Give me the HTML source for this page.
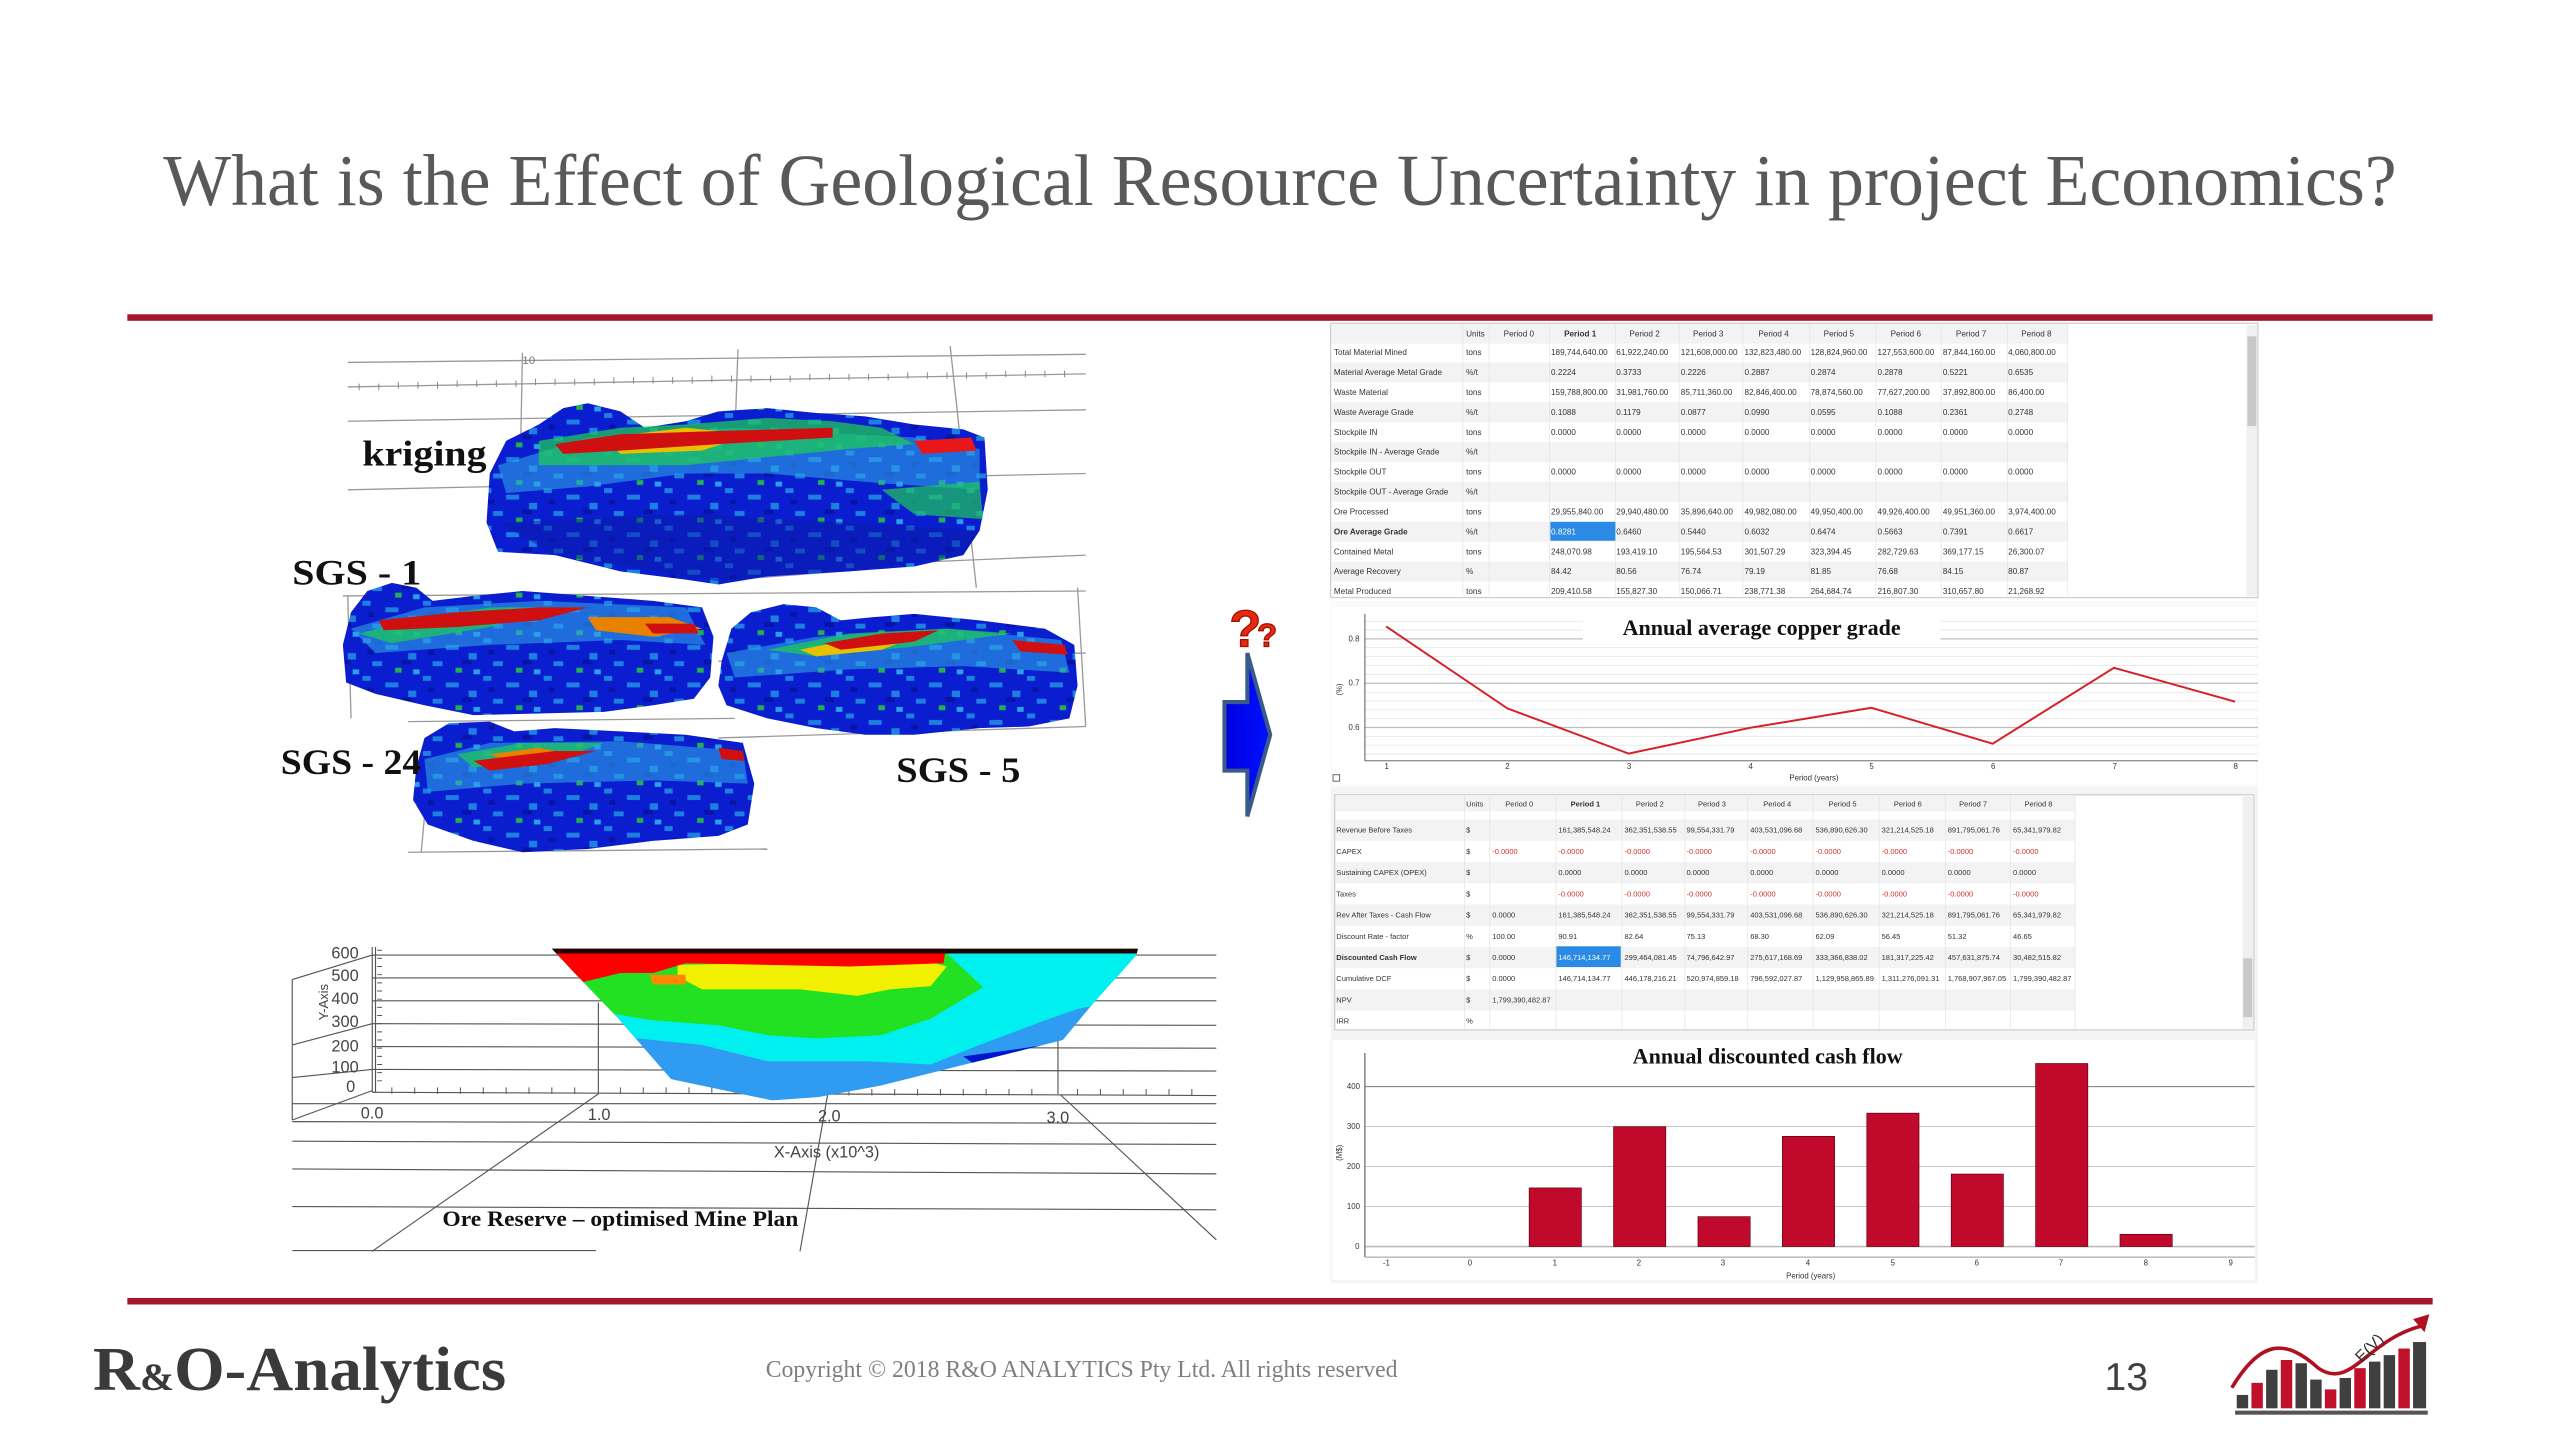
<!DOCTYPE html>
<html><head><meta charset="utf-8"><style>
html,body{margin:0;padding:0;background:#fff;}
svg{display:block;}
.t{font-family:"Liberation Sans",sans-serif;fill:#333;}
.s{font-family:"Liberation Serif",serif;}
</style></head><body>
<svg width="2560" height="1440" viewBox="0 0 1568 882" xmlns="http://www.w3.org/2000/svg">
<defs>
<pattern id="tex" width="37" height="23" patternUnits="userSpaceOnUse">
<rect width="37" height="23" fill="#0a1ed0"/>
<rect x="0" y="0" width="5" height="3" fill="#1d7fe0"/>
<rect x="14" y="4" width="8" height="3" fill="#1d7fe0"/>
<rect x="28" y="9" width="5" height="4" fill="#1d7fe0"/>
<rect x="6" y="14" width="6" height="3" fill="#1d7fe0"/>
<rect x="20" y="18" width="4" height="3" fill="#22b050"/>
<rect x="3" y="7" width="4" height="3" fill="#0814a8"/>
<rect x="24" y="13" width="6" height="3" fill="#0814a8"/>
<rect x="31" y="19" width="4" height="3" fill="#2aa0e8"/>
</pattern>
<clipPath id="pit"><polygon points="338,581 697,581 696,585 670,614 651,637 539,665 501,672 473,674 411,661 378,623 351,595"/></clipPath>
<linearGradient id="arr" x1="0" x2="1"><stop offset="0" stop-color="#0000e0"/><stop offset="1" stop-color="#0010ff"/></linearGradient>
</defs>

<text class="s" x="100" y="125.6" font-size="45" fill="#595959" textLength="1368" lengthAdjust="spacingAndGlyphs">What is the Effect of Geological Resource Uncertainty in project Economics?</text>

<rect x="78" y="192.5" width="1412" height="4" fill="#a3162b"/>
<rect x="78" y="795" width="1412" height="4" fill="#a3162b"/>

<g stroke="#999" stroke-width="0.8" fill="none">
<line x1="213" y1="222" x2="665" y2="217"/>
<line x1="213" y1="237" x2="665" y2="229"/>
<line x1="213" y1="258" x2="665" y2="251"/>
<line x1="213" y1="300" x2="665" y2="290"/>
<line x1="430" y1="350" x2="665" y2="340"/>
<line x1="210" y1="365" x2="665" y2="362"/>
<line x1="440" y1="405" x2="665" y2="400"/>
<line x1="440" y1="452" x2="665" y2="445"/>
<line x1="250" y1="442" x2="450" y2="440"/>
<line x1="250" y1="522" x2="470" y2="520"/>
<line x1="320" y1="216" x2="318" y2="320"/>
<line x1="452" y1="214" x2="450" y2="270"/>
<line x1="582" y1="212" x2="598" y2="360"/>
<line x1="213" y1="365" x2="215" y2="440"/>
<line x1="660" y1="360" x2="665" y2="445"/>
<line x1="260" y1="500" x2="258" y2="522"/>
</g>
<g stroke="#888" stroke-width="0.6">
<path d="M220 235v4M232 235v4M244 234v4M256 234v4M268 234v4M280 233v4M292 233v4M304 233v4M316 233v4M328 232v4M340 232v4M352 232v4M364 232v4M376 231v4M388 231v4M400 231v4M412 231v4M424 231v4M436 230v4M448 230v4M460 230v4M472 230v4M484 230v4M496 229v4M508 229v4M520 229v4M532 229v4M544 229v4M556 228v4M568 228v4M580 228v4M592 228v4M604 228v4M616 227v4M628 227v4M640 227v4M652 227v4"/>
</g>
<text x="320" y="223" font-family="Liberation Sans" font-size="7" fill="#777">10</text>

<g>
<polygon fill="url(#tex)" points="300,290 310,270 330,260 345,250 360,247 380,252 395,262 420,258 440,252 470,250 500,253 530,255 560,260 590,263 603,268 605,300 600,325 590,340 560,347 520,350 470,353 440,358 420,355 380,350 340,340 305,338 298,320"/>
<polygon fill="#2da0e6" opacity="0.6" points="305,285 360,268 450,262 560,268 600,275 600,300 540,296 470,290 420,290 360,298 310,302"/>
<polygon fill="#1ec85a" opacity="0.75" points="330,270 380,262 420,260 470,256 510,258 540,262 560,272 520,275 470,280 420,285 370,285 330,285"/>
<polygon fill="#1ec85a" opacity="0.7" points="540,300 600,295 602,318 560,315"/>
<polygon fill="#e8c000" points="370,268 420,262 460,266 430,276 380,278"/>
<polygon fill="#d01010" points="340,272 380,266 440,264 510,262 510,268 440,272 380,276 345,278"/>
<polygon fill="#e8181a" points="560,270 595,268 598,276 565,278"/>
<polygon fill="#0a1aa8" opacity="0.5" points="305,320 420,315 520,320 600,325 590,340 520,350 440,356 340,340"/>
</g>
<g>
<polygon fill="url(#tex)" points="210,395 215,375 225,362 240,357 255,360 265,368 290,365 320,362 360,365 400,368 430,372 437,390 435,415 425,428 400,432 370,436 330,437 290,438 260,432 230,425 212,418"/>
<polygon fill="#2da0e6" opacity="0.6" points="215,385 260,372 330,368 420,372 432,395 380,392 300,395 230,400"/>
<polygon fill="#1ec85a" opacity="0.75" points="220,388 260,378 300,372 340,372 300,384 240,394"/>
<polygon fill="#d01010" points="232,380 280,375 330,372 360,372 330,380 280,384 235,386"/>
<polygon fill="#e88000" points="360,378 410,378 430,385 400,390 365,386"/>
<polygon fill="#d01010" points="395,382 425,382 428,388 400,388"/>
</g>
<g>
<polygon fill="url(#tex)" points="442,405 448,385 460,375 480,370 500,372 515,380 535,378 560,376 600,380 640,385 658,395 660,420 655,440 630,445 600,446 560,450 530,450 500,446 470,440 445,432 440,420"/>
<polygon fill="#2da0e6" opacity="0.6" points="445,400 500,390 580,385 650,392 655,412 590,408 520,410 450,415"/>
<polygon fill="#1ec85a" opacity="0.75" points="470,398 520,388 580,385 620,388 560,396 500,402"/>
<polygon fill="#e8c000" points="490,398 520,392 560,390 540,398 500,402"/>
<polygon fill="#d01010" points="505,394 540,388 575,386 560,393 515,398"/>
<polygon fill="#d01010" points="620,392 652,395 654,401 625,399"/>
</g>
<g>
<polygon fill="url(#tex)" points="255,470 260,452 275,443 300,442 315,448 340,446 380,448 420,450 455,455 462,480 458,505 440,512 400,515 360,520 320,522 290,515 262,505 253,490"/>
<polygon fill="#2da0e6" opacity="0.6" points="260,465 300,455 380,454 455,460 458,480 400,478 320,480 262,485"/>
<polygon fill="#1ec85a" opacity="0.75" points="280,462 320,455 370,455 340,466 290,470"/>
<polygon fill="#e88000" points="300,462 330,458 350,462 320,470"/>
<polygon fill="#d01010" points="290,466 340,460 365,460 335,468 300,472"/>
<polygon fill="#d01010" points="440,458 455,460 456,466 442,465"/>
</g>
<g class="s" font-weight="bold" fill="#111" font-size="22">
<text x="222" y="285" textLength="76" lengthAdjust="spacingAndGlyphs">kriging</text>
<text x="179" y="358" textLength="79" lengthAdjust="spacingAndGlyphs">SGS - 1</text>
<text x="172" y="474" textLength="86" lengthAdjust="spacingAndGlyphs">SGS - 24</text>
<text x="549" y="479" textLength="76" lengthAdjust="spacingAndGlyphs">SGS - 5</text>
</g>

<g stroke="#555" stroke-width="0.7" fill="none">
<line x1="228" y1="585" x2="745" y2="585"/>
<line x1="228" y1="599" x2="745" y2="599"/>
<line x1="228" y1="613" x2="745" y2="613"/>
<line x1="228" y1="627" x2="745" y2="628"/>
<line x1="228" y1="641" x2="745" y2="642"/>
<line x1="228" y1="655" x2="745" y2="656"/>
<line x1="228" y1="669" x2="745" y2="671"/>
<line x1="179" y1="676" x2="745" y2="676"/>
<line x1="179" y1="687" x2="745" y2="688"/>
<line x1="179" y1="699" x2="745" y2="701"/>
<line x1="179" y1="716" x2="745" y2="719"/>
<line x1="179" y1="739" x2="745" y2="741"/>
<line x1="179" y1="766" x2="365" y2="766"/>
<line x1="228" y1="580" x2="228" y2="669"/>
<line x1="230" y1="580" x2="230" y2="669"/>
<line x1="366.5" y1="614" x2="366.5" y2="670"/>
<line x1="648" y1="637" x2="648" y2="670"/>
<line x1="366.5" y1="670" x2="227.8" y2="766.5"/>
<line x1="507" y1="670" x2="490" y2="766.5"/>
<line x1="649.6" y1="670.6" x2="745" y2="759.4"/>
<line x1="179" y1="686" x2="228" y2="668"/>
<line x1="179" y1="600" x2="228" y2="585"/>
<line x1="179" y1="640" x2="228" y2="627"/>
<line x1="179" y1="660" x2="228" y2="655"/>
<line x1="179" y1="600" x2="179" y2="686"/>
</g>
<g stroke="#555" stroke-width="0.6">
<path d="M240 666v4M254 666v4M268 666v4M282 666v4M296 666v4M310 666v4M324 666v4M338 666v4M352 666v4M380 666v4M394 666v4M408 666v4M422 666v4M436 666v4M450 666v4M464 666v4M478 666v4M520 667v4M534 667v4M548 667v4M562 667v4M576 667v4M590 667v4M604 667v4M618 667v4M632 667v4M660 667v4M674 667v4M688 667v4M702 667v4M716 667v4M730 667v4"/>
<path d="M231 582h3M231 587h3M231 592h3M231 597h3M231 602h3M231 607h3M231 612h3M231 617h3M231 622h3M231 627h3M231 632h3M231 637h3M231 642h3M231 647h3M231 652h3M231 657h3M231 662h3"/>
</g>
<g clip-path="url(#pit)">
<rect x="330" y="575" width="380" height="110" fill="#2f9cf2"/>
<polygon fill="#00f0f0" points="330,575 710,575 710,612 690,612 660,618 640,625 600,640 570,652 530,650 470,650 430,640 400,637 330,630"/>
<polygon fill="#22e022" points="330,575 710,575 710,586 670,588 640,592 610,600 590,612 570,624 540,634 500,636 470,634 440,628 400,625 370,620 330,615"/>
<polygon fill="#f0f000" points="415,591 565,588 580,592 570,604 545,606 525,610 490,606 430,606 415,598"/>
<polygon fill="#ff0000" points="330,575 580,575 578,590 520,592 470,591 420,590 400,596 380,596 355,602 330,602"/>
<polygon fill="#ff8800" points="398,597 420,597 420,603 400,603"/>
<polygon fill="#00f0f0" points="580,584 700,584 700,600 640,604 610,612"/>
<polygon fill="#0015d0" points="590,647 620,643 640,640 650,640 648,648 620,652 600,654"/>
<rect x="330" y="575" width="380" height="9" fill="#200000"/>
</g>
<g font-family="Liberation Sans" font-size="10" fill="#444">
<text x="203" y="587">600</text><text x="203" y="601">500</text><text x="203" y="615">400</text><text x="203" y="629">300</text><text x="203" y="644">200</text><text x="203" y="657">100</text><text x="212" y="669">0</text>
<text x="221" y="685">0.0</text><text x="360" y="686">1.0</text><text x="501" y="687">2.0</text><text x="641" y="688">3.0</text>
<text x="474" y="709">X-Axis (x10^3)</text>
<text x="186" y="640" transform="rotate(-90 186 625)" font-size="8">Y-Axis</text>
</g>
<text class="s" x="271" y="751" font-size="13.5" font-weight="bold" fill="#111" textLength="218" lengthAdjust="spacingAndGlyphs">Ore Reserve – optimised Mine Plan</text>

<g font-family="Liberation Sans" font-weight="bold" fill="#e62a10" stroke="#a01000" stroke-width="0.8">
<text x="753" y="396" font-size="32">?</text><text x="770" y="396" font-size="20">?</text>
<text x="1310" y="343" font-size="64">?</text><text x="1346" y="345" font-size="40">?</text>
<text x="1312" y="614" font-size="32">?</text><text x="1330" y="615" font-size="20">?</text>
</g>
<polygon points="750,430 764,430 764,400 778,450 764,500 764,472 750,472" fill="url(#arr)" stroke="#3a5a8a" stroke-width="2.5"/>

<rect x="815" y="198" width="568" height="168" fill="#fff" stroke="#cfcfcf" stroke-width="0.8"/>
<g fill="#f3f3f3">
<rect x="815.5" y="198.5" width="451" height="12"/>
<rect x="815.5" y="222" width="451" height="12.2"/><rect x="815.5" y="246.4" width="451" height="12.2"/><rect x="815.5" y="270.8" width="451" height="12.2"/><rect x="815.5" y="295.2" width="451" height="12.2"/><rect x="815.5" y="319.6" width="451" height="12.2"/><rect x="815.5" y="344" width="451" height="12.2"/>
</g>
<g stroke="#e2e2e2" stroke-width="0.4">
<path d="M896 199v166M912 199v166M949 199v166M989.5 199v166M1028.5 199v166M1067.5 199v166M1108.5 199v166M1149 199v166M1189 199v166M1229.5 199v166M1266.5 199v166"/>
</g>
<rect x="949.6" y="319.6" width="39.8" height="11.6" fill="#2a8ae6"/>
<rect x="1376" y="199" width="6.5" height="166" fill="#f0f0f0"/>
<rect x="1376.5" y="206" width="5.5" height="55" fill="#c8c8c8"/>
<g class="t" font-size="5">
<text y="206"><tspan x="898">Units</tspan><tspan x="921">Period 0</tspan><tspan x="958" font-weight="bold">Period 1</tspan><tspan x="998">Period 2</tspan><tspan x="1037">Period 3</tspan><tspan x="1077">Period 4</tspan><tspan x="1117">Period 5</tspan><tspan x="1158">Period 6</tspan><tspan x="1198">Period 7</tspan><tspan x="1238">Period 8</tspan></text>
<text y="217.5"><tspan x="817">Total Material Mined</tspan><tspan x="898">tons</tspan><tspan x="950">189,744,640.00</tspan><tspan x="990">61,922,240.00</tspan><tspan x="1029.5">121,608,000.00</tspan><tspan x="1068.5">132,823,480.00</tspan><tspan x="1109">128,824,960.00</tspan><tspan x="1150">127,553,600.00</tspan><tspan x="1190">87,844,160.00</tspan><tspan x="1230">4,060,800.00</tspan></text>
<text y="229.7"><tspan x="817">Material Average Metal Grade</tspan><tspan x="898">%/t</tspan><tspan x="950">0.2224</tspan><tspan x="990">0.3733</tspan><tspan x="1029.5">0.2226</tspan><tspan x="1068.5">0.2887</tspan><tspan x="1109">0.2874</tspan><tspan x="1150">0.2878</tspan><tspan x="1190">0.5221</tspan><tspan x="1230">0.6535</tspan></text>
<text y="241.9"><tspan x="817">Waste Material</tspan><tspan x="898">tons</tspan><tspan x="950">159,788,800.00</tspan><tspan x="990">31,981,760.00</tspan><tspan x="1029.5">85,711,360.00</tspan><tspan x="1068.5">82,846,400.00</tspan><tspan x="1109">78,874,560.00</tspan><tspan x="1150">77,627,200.00</tspan><tspan x="1190">37,892,800.00</tspan><tspan x="1230">86,400.00</tspan></text>
<text y="254.1"><tspan x="817">Waste Average Grade</tspan><tspan x="898">%/t</tspan><tspan x="950">0.1088</tspan><tspan x="990">0.1179</tspan><tspan x="1029.5">0.0877</tspan><tspan x="1068.5">0.0990</tspan><tspan x="1109">0.0595</tspan><tspan x="1150">0.1088</tspan><tspan x="1190">0.2361</tspan><tspan x="1230">0.2748</tspan></text>
<text y="266.3"><tspan x="817">Stockpile IN</tspan><tspan x="898">tons</tspan><tspan x="950">0.0000</tspan><tspan x="990">0.0000</tspan><tspan x="1029.5">0.0000</tspan><tspan x="1068.5">0.0000</tspan><tspan x="1109">0.0000</tspan><tspan x="1150">0.0000</tspan><tspan x="1190">0.0000</tspan><tspan x="1230">0.0000</tspan></text>
<text y="278.5"><tspan x="817">Stockpile IN - Average Grade</tspan><tspan x="898">%/t</tspan></text>
<text y="290.7"><tspan x="817">Stockpile OUT</tspan><tspan x="898">tons</tspan><tspan x="950">0.0000</tspan><tspan x="990">0.0000</tspan><tspan x="1029.5">0.0000</tspan><tspan x="1068.5">0.0000</tspan><tspan x="1109">0.0000</tspan><tspan x="1150">0.0000</tspan><tspan x="1190">0.0000</tspan><tspan x="1230">0.0000</tspan></text>
<text y="302.9"><tspan x="817">Stockpile OUT - Average Grade</tspan><tspan x="898">%/t</tspan></text>
<text y="315.1"><tspan x="817">Ore Processed</tspan><tspan x="898">tons</tspan><tspan x="950">29,955,840.00</tspan><tspan x="990">29,940,480.00</tspan><tspan x="1029.5">35,896,640.00</tspan><tspan x="1068.5">49,982,080.00</tspan><tspan x="1109">49,950,400.00</tspan><tspan x="1150">49,926,400.00</tspan><tspan x="1190">49,951,360.00</tspan><tspan x="1230">3,974,400.00</tspan></text>
<text y="327.3"><tspan x="817" font-weight="bold">Ore Average Grade</tspan><tspan x="898">%/t</tspan><tspan x="950" fill="#fff">0.8281</tspan><tspan x="990">0.6460</tspan><tspan x="1029.5">0.5440</tspan><tspan x="1068.5">0.6032</tspan><tspan x="1109">0.6474</tspan><tspan x="1150">0.5663</tspan><tspan x="1190">0.7391</tspan><tspan x="1230">0.6617</tspan></text>
<text y="339.5"><tspan x="817">Contained Metal</tspan><tspan x="898">tons</tspan><tspan x="950">248,070.98</tspan><tspan x="990">193,419.10</tspan><tspan x="1029.5">195,564.53</tspan><tspan x="1068.5">301,507.29</tspan><tspan x="1109">323,394.45</tspan><tspan x="1150">282,729.63</tspan><tspan x="1190">369,177.15</tspan><tspan x="1230">26,300.07</tspan></text>
<text y="351.7"><tspan x="817">Average Recovery</tspan><tspan x="898">%</tspan><tspan x="950">84.42</tspan><tspan x="990">80.56</tspan><tspan x="1029.5">76.74</tspan><tspan x="1068.5">79.19</tspan><tspan x="1109">81.85</tspan><tspan x="1150">76.68</tspan><tspan x="1190">84.15</tspan><tspan x="1230">80.87</tspan></text>
<text y="363.9"><tspan x="817">Metal Produced</tspan><tspan x="898">tons</tspan><tspan x="950">209,410.58</tspan><tspan x="990">155,827.30</tspan><tspan x="1029.5">150,066.71</tspan><tspan x="1068.5">238,771.38</tspan><tspan x="1109">264,684.74</tspan><tspan x="1150">216,807.30</tspan><tspan x="1190">310,657.80</tspan><tspan x="1230">21,268.92</tspan></text>
</g>

<rect x="815" y="368" width="568" height="114" fill="#fafafa"/>
<rect x="816" y="372" width="566" height="108" fill="#fff"/>
<g stroke="#e4e4e4" stroke-width="0.5">
<path d="M836 380.5h547M836 385.9h547M836 396.7h547M836 402.1h547M836 407.5h547M836 413h547M836 424h547M836 429.4h547M836 434.8h547M836 440.2h547M836 451h547M836 456.4h547M836 461.8h547"/>
</g>
<g stroke="#bdbdbd" stroke-width="0.8"><path d="M836 391.3h547M836 418.5h547M836 445.6h547"/></g>
<rect x="969.5" y="373" width="219" height="22" fill="#fff"/>
<line x1="836" y1="376" x2="836" y2="466" stroke="#555" stroke-width="0.6"/>
<line x1="836" y1="466" x2="1383" y2="466" stroke="#555" stroke-width="0.6"/>
<polyline fill="none" stroke="#d81f26" stroke-width="1.2" points="849,383.7 923.3,433.9 997.6,461.6 1071.9,445.8 1146.2,433.5 1220.5,455.5 1294.8,409 1369,429.8"/>
<g class="t" font-size="4.8" fill="#555">
<text x="826" y="393">0.8</text><text x="826" y="420">0.7</text><text x="826" y="447">0.6</text>
<text x="848" y="471">1</text><text x="922" y="471">2</text><text x="996.5" y="471">3</text><text x="1071" y="471">4</text><text x="1145" y="471">5</text><text x="1219.5" y="471">6</text><text x="1294" y="471">7</text><text x="1368" y="471">8</text>
<text x="1096" y="478">Period (years)</text>
<text x="820" y="428" transform="rotate(-90 820 426)">(%)</text>
</g>
<rect x="816.5" y="474.5" width="4" height="4" fill="none" stroke="#666" stroke-width="0.6"/>
<text class="s" x="1079" y="389" font-size="13.5" font-weight="bold" fill="#111" text-anchor="middle">Annual average copper grade</text>

<rect x="815" y="482" width="568" height="152" fill="#f4f4f4"/>
<rect x="817.5" y="486.8" width="563" height="144" fill="#fff" stroke="#cfcfcf" stroke-width="0.8"/>
<g fill="#f3f3f3">
<rect x="818" y="487" width="453" height="10"/>
<rect x="818" y="502" width="453" height="13"/><rect x="818" y="528" width="453" height="13"/><rect x="818" y="554" width="453" height="13"/><rect x="818" y="580" width="453" height="13"/><rect x="818" y="606" width="453" height="13"/>
</g>
<g stroke="#e2e2e2" stroke-width="0.4">
<path d="M897 487v143M912.5 487v143M953 487v143M993.5 487v143M1032 487v143M1070.5 487v143M1110.5 487v143M1151 487v143M1191.5 487v143M1231.5 487v143M1271 487v143"/>
</g>
<rect x="953.3" y="579.6" width="39.4" height="12.7" fill="#2a8ae6"/>
<rect x="1373.5" y="487" width="6.5" height="143" fill="#f0f0f0"/>
<rect x="1374" y="587" width="5.5" height="36" fill="#c8c8c8"/>
<g class="t" font-size="4.6">
<text y="494"><tspan x="898">Units</tspan><tspan x="922">Period 0</tspan><tspan x="962" font-weight="bold">Period 1</tspan><tspan x="1002">Period 2</tspan><tspan x="1040">Period 3</tspan><tspan x="1080">Period 4</tspan><tspan x="1120">Period 5</tspan><tspan x="1160">Period 6</tspan><tspan x="1200">Period 7</tspan><tspan x="1240">Period 8</tspan></text>
<text y="510"><tspan x="818.5">Revenue Before Taxes</tspan><tspan x="898">$</tspan><tspan x="954.5">161,385,548.24</tspan><tspan x="995">362,351,538.55</tspan><tspan x="1033">99,554,331.79</tspan><tspan x="1072">403,531,096.68</tspan><tspan x="1112">536,890,626.30</tspan><tspan x="1152.5">321,214,525.18</tspan><tspan x="1193">891,795,061.76</tspan><tspan x="1233">65,341,979.82</tspan></text>
<text y="523" fill="#d03030"><tspan x="818.5" fill="#333">CAPEX</tspan><tspan x="898" fill="#333">$</tspan><tspan x="914">-0.0000</tspan><tspan x="954.5">-0.0000</tspan><tspan x="995">-0.0000</tspan><tspan x="1033">-0.0000</tspan><tspan x="1072">-0.0000</tspan><tspan x="1112">-0.0000</tspan><tspan x="1152.5">-0.0000</tspan><tspan x="1193">-0.0000</tspan><tspan x="1233">-0.0000</tspan></text>
<text y="536"><tspan x="818.5">Sustaining CAPEX (OPEX)</tspan><tspan x="898">$</tspan><tspan x="954.5">0.0000</tspan><tspan x="995">0.0000</tspan><tspan x="1033">0.0000</tspan><tspan x="1072">0.0000</tspan><tspan x="1112">0.0000</tspan><tspan x="1152.5">0.0000</tspan><tspan x="1193">0.0000</tspan><tspan x="1233">0.0000</tspan></text>
<text y="549" fill="#d03030"><tspan x="818.5" fill="#333">Taxes</tspan><tspan x="898" fill="#333">$</tspan><tspan x="954.5">-0.0000</tspan><tspan x="995">-0.0000</tspan><tspan x="1033">-0.0000</tspan><tspan x="1072">-0.0000</tspan><tspan x="1112">-0.0000</tspan><tspan x="1152.5">-0.0000</tspan><tspan x="1193">-0.0000</tspan><tspan x="1233">-0.0000</tspan></text>
<text y="562"><tspan x="818.5">Rev After Taxes - Cash Flow</tspan><tspan x="898">$</tspan><tspan x="914">0.0000</tspan><tspan x="954.5">161,385,548.24</tspan><tspan x="995">362,351,538.55</tspan><tspan x="1033">99,554,331.79</tspan><tspan x="1072">403,531,096.68</tspan><tspan x="1112">536,890,626.30</tspan><tspan x="1152.5">321,214,525.18</tspan><tspan x="1193">891,795,061.76</tspan><tspan x="1233">65,341,979.82</tspan></text>
<text y="575"><tspan x="818.5">Discount Rate - factor</tspan><tspan x="898">%</tspan><tspan x="914">100.00</tspan><tspan x="954.5">90.91</tspan><tspan x="995">82.64</tspan><tspan x="1033">75.13</tspan><tspan x="1072">68.30</tspan><tspan x="1112">62.09</tspan><tspan x="1152.5">56.45</tspan><tspan x="1193">51.32</tspan><tspan x="1233">46.65</tspan></text>
<text y="588"><tspan x="818.5" font-weight="bold">Discounted Cash Flow</tspan><tspan x="898">$</tspan><tspan x="914">0.0000</tspan><tspan x="954.5" fill="#fff">146,714,134.77</tspan><tspan x="995">299,464,081.45</tspan><tspan x="1033">74,796,642.97</tspan><tspan x="1072">275,617,168.69</tspan><tspan x="1112">333,366,838.02</tspan><tspan x="1152.5">181,317,225.42</tspan><tspan x="1193">457,631,875.74</tspan><tspan x="1233">30,482,515.82</tspan></text>
<text y="601"><tspan x="818.5">Cumulative DCF</tspan><tspan x="898">$</tspan><tspan x="914">0.0000</tspan><tspan x="954.5">146,714,134.77</tspan><tspan x="995">446,178,216.21</tspan><tspan x="1033">520,974,859.18</tspan><tspan x="1072">796,592,027.87</tspan><tspan x="1112">1,129,958,865.89</tspan><tspan x="1152.5">1,311,276,091.31</tspan><tspan x="1193">1,768,907,967.05</tspan><tspan x="1233">1,799,390,482.87</tspan></text>
<text y="614"><tspan x="818.5">NPV</tspan><tspan x="898">$</tspan><tspan x="914">1,799,390,482.87</tspan></text>
<text y="627"><tspan x="818.5">IRR</tspan><tspan x="898">%</tspan></text>
</g>

<rect x="815" y="634" width="568" height="152" fill="#f4f4f4"/>
<rect x="816" y="637" width="565" height="147" fill="#fff"/>
<g stroke="#c8c8c8" stroke-width="0.6"><path d="M836 739h545M836 714.5h545M836 690h545"/></g>
<line x1="836" y1="665.6" x2="1381" y2="665.6" stroke="#666" stroke-width="0.6"/>
<line x1="836" y1="763.5" x2="1381" y2="763.5" stroke="#bbb" stroke-width="1"/>
<line x1="836" y1="645" x2="836" y2="770" stroke="#444" stroke-width="0.6"/>
<line x1="836" y1="770" x2="1381" y2="770" stroke="#999" stroke-width="0.6"/>
<g fill="#c0092b" stroke="#5a0010" stroke-width="0.4">
<rect x="936.6" y="727.6" width="32" height="35.9"/>
<rect x="988.3" y="690.1" width="32" height="73.4"/>
<rect x="1040" y="745.2" width="32" height="18.3"/>
<rect x="1091.7" y="696" width="32" height="67.5"/>
<rect x="1143.4" y="681.8" width="32" height="81.7"/>
<rect x="1195.1" y="719.1" width="32" height="44.4"/>
<rect x="1246.8" y="651.4" width="32" height="112.1"/>
<rect x="1298.5" y="756" width="32" height="7.5"/>
</g>
<g class="t" font-size="4.8" fill="#555">
<text x="825" y="667">400</text><text x="825" y="691.5">300</text><text x="825" y="716">200</text><text x="825" y="740.5">100</text><text x="830" y="765">0</text>
<text x="847" y="775">-1</text><text x="899" y="775">0</text><text x="951" y="775">1</text><text x="1002.5" y="775">2</text><text x="1054" y="775">3</text><text x="1106" y="775">4</text><text x="1158" y="775">5</text><text x="1209.5" y="775">6</text><text x="1261" y="775">7</text><text x="1313" y="775">8</text><text x="1365" y="775">9</text>
<text x="1094" y="783">Period (years)</text>
<text x="819" y="712" transform="rotate(-90 820 710)">(M$)</text>
</g>
<text class="s" x="1082.7" y="651.3" font-size="13.5" font-weight="bold" fill="#111" text-anchor="middle">Annual discounted cash flow</text>

<text class="s" x="57" y="851.3" font-size="38" font-weight="bold" fill="#3a3a3a" textLength="253" lengthAdjust="spacingAndGlyphs">R<tspan font-size="24">&amp;</tspan>O-Analytics</text>
<text class="s" x="469" y="843.5" font-size="15" fill="#7f7f7f" textLength="387" lengthAdjust="spacingAndGlyphs">Copyright © 2018 R&amp;O ANALYTICS Pty Ltd. All rights reserved</text>
<text x="1289" y="851.3" font-family="Liberation Sans" font-size="24" fill="#404040">13</text>

<g>
<rect x="1370" y="854.4" width="7" height="8.2" fill="#404040"/>
<rect x="1379" y="847" width="7" height="15.6" fill="#c0102a"/>
<rect x="1388" y="839" width="7" height="23.6" fill="#404040"/>
<rect x="1397" y="833" width="7" height="29.6" fill="#c0102a"/>
<rect x="1406" y="835" width="7" height="27.6" fill="#404040"/>
<rect x="1415" y="845" width="7" height="17.6" fill="#404040"/>
<rect x="1424" y="851" width="7" height="11.6" fill="#c0102a"/>
<rect x="1433" y="844" width="7" height="18.6" fill="#404040"/>
<rect x="1442" y="838" width="7" height="24.6" fill="#c0102a"/>
<rect x="1451" y="834" width="7" height="28.6" fill="#404040"/>
<rect x="1460" y="830" width="7" height="32.6" fill="#404040"/>
<rect x="1469" y="826" width="7" height="36.6" fill="#c0102a"/>
<rect x="1478" y="822" width="8" height="40.6" fill="#404040"/>
<rect x="1369" y="864" width="118" height="2.5" fill="#555"/>
<path d="M1367 850 C1385 820 1400 820 1420 838 C1440 852 1450 820 1484 812" fill="none" stroke="#b01020" stroke-width="2.2"/>
<polygon points="1478,808 1488,805 1485,816" fill="#b01020"/>
<text x="1442" y="832" font-family="Liberation Sans" font-size="10" fill="#333" transform="rotate(-45 1448 828)">E(V)</text>
</g>
</svg>
</body></html>
